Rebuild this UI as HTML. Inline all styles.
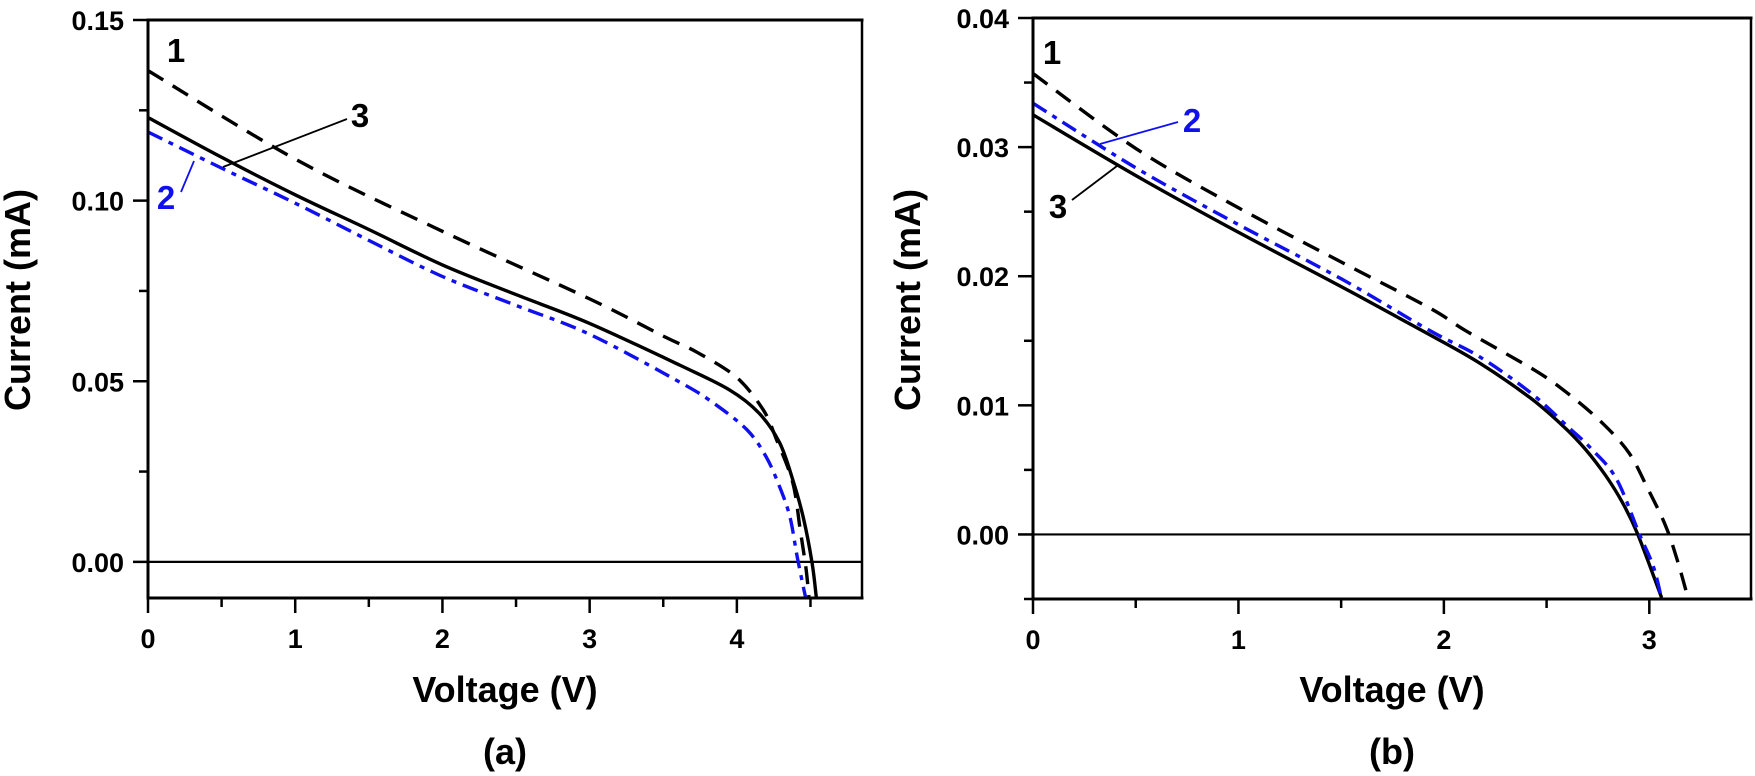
<!DOCTYPE html>
<html><head><meta charset="utf-8">
<style>
html,body{margin:0;padding:0;background:#fff;}
svg{display:block;font-family:"Liberation Sans",Arial,sans-serif;font-weight:bold;}
</style></head>
<body>
<svg id="chart" width="1755" height="776" viewBox="0 0 1755 776" xmlns="http://www.w3.org/2000/svg"></svg>
<script>
// ---- Panel (a) data ----
const aV1 = [0, 1, 2, 3, 3.5, 3.73, 4, 4.18, 4.27, 4.38, 4.43, 4.47, 4.49];
const aI1 = [0.136, 0.1115, 0.0915, 0.0728, 0.0625, 0.058, 0.051, 0.042, 0.0338, 0.0219, 0.0089, -0.002, -0.01];
const aV3 = [0, 0.5, 1, 1.5, 2, 2.5, 3, 3.61, 3.95, 4.15, 4.29, 4.38, 4.45, 4.51, 4.54];
const aI3 = [0.123, 0.112, 0.1016, 0.092, 0.0822, 0.074, 0.066, 0.0545, 0.0476, 0.0412, 0.033, 0.0227, 0.0125, 0.0, -0.01];
const aV2 = [0, 0.5, 1, 1.5, 2, 2.5, 3, 3.61, 3.84, 4.07, 4.2, 4.29, 4.36, 4.41, 4.46, 4.47];
const aI2 = [0.119, 0.109, 0.0993, 0.089, 0.079, 0.071, 0.063, 0.0498, 0.044, 0.0365, 0.029, 0.0208, 0.0125, 0.0014, -0.0086, -0.01];
const aXTicks = [0, 1, 2, 3, 4];
const aYTicks = [0.00, 0.05, 0.10, 0.15];
const aYLabels = ["0.00", "0.05", "0.10", "0.15"];
// ---- Panel (b) data ----
const bV1 = [0, 0.5, 1, 1.5, 1.93, 2.11, 2.45, 2.61, 2.77, 2.9, 2.99, 3.08, 3.14, 3.19];
const bI1 = [0.0357, 0.0299, 0.0253, 0.0211, 0.01755, 0.01574, 0.01264, 0.01084, 0.00865, 0.00634, 0.00363, 0.00065, -0.0022, -0.005];
const bV3 = [0, 0.5, 1, 1.5, 1.93, 2.17, 2.42, 2.58, 2.69, 2.79, 2.87, 2.944, 3.06];
const bI3 = [0.0325, 0.0278, 0.0234, 0.0192, 0.01548, 0.01331, 0.01058, 0.0084, 0.00658, 0.0045, 0.00245, 0.0, -0.0049];
const bV2 = [0, 0.5, 1, 1.5, 1.93, 2.17, 2.42, 2.6, 2.72, 2.84, 2.95, 3.02, 3.06];
const bI2 = [0.0334, 0.0284, 0.024, 0.0198, 0.0158, 0.0138, 0.011, 0.0084, 0.0066, 0.0043, 0.0001, -0.0025, -0.005];
const bXTicks = [0, 1, 2, 3];
const bYTicks = [0.00, 0.01, 0.02, 0.03, 0.04];
const bYLabels = ["0.00", "0.01", "0.02", "0.03", "0.04"];

const NS = "http://www.w3.org/2000/svg";
const svg = document.getElementById("chart");
function mk(tag, attrs, parent) {
  const e = document.createElementNS(NS, tag);
  for (const k in attrs) e.setAttribute(k, attrs[k]);
  (parent || svg).appendChild(e);
  return e;
}
function smoothPath(pts) {
  let d = "M" + pts[0][0].toFixed(1) + "," + pts[0][1].toFixed(1);
  for (let i = 0; i < pts.length - 1; i++) {
    const p0 = pts[i - 1] || pts[i], p1 = pts[i], p2 = pts[i + 1], p3 = pts[i + 2] || p2;
    const c1 = [p1[0] + (p2[0] - p0[0]) / 6, p1[1] + (p2[1] - p0[1]) / 6];
    const c2 = [p2[0] - (p3[0] - p1[0]) / 6, p2[1] - (p3[1] - p1[1]) / 6];
    d += " C" + c1[0].toFixed(1) + "," + c1[1].toFixed(1) + " " + c2[0].toFixed(1) + "," + c2[1].toFixed(1) + " " + p2[0].toFixed(1) + "," + p2[1].toFixed(1);
  }
  return d;
}

function panel(cfg) {
  const g = mk("g", {});
  
  
  const X = v => cfg.x0 + (v - cfg.xmin) / (cfg.xmax - cfg.xmin) * (cfg.x1 - cfg.x0);
  const Y = v => cfg.y1 - (v - cfg.ymin) / (cfg.ymax - cfg.ymin) * (cfg.y1 - cfg.y0);
  const cid = cfg.name + "-clip";
  const defs = mk("defs", {}, g);
  const cp = mk("clipPath", {id: cid}, defs);
  mk("rect", {x: cfg.x0, y: cfg.y0, width: cfg.x1 - cfg.x0, height: cfg.y1 - cfg.y0}, cp);
  const z = mk("line", {x1: cfg.x0, x2: cfg.x1, y1: Y(0), y2: Y(0), stroke: "#000", "stroke-width": 2.2}, g);
  
  
  const cg = mk("g", {"clip-path": "url(#" + cid + ")"}, g);
  cfg.series.forEach(s => {
    const pts = s.v.map((v, i) => [X(v), Y(s.i[i])]);
    const p = mk("path", {d: smoothPath(pts), fill: "none", stroke: s.color, "stroke-width": 3.4, "stroke-dasharray": s.dash, "stroke-linejoin": "round"}, cg);
    
    
  });
  const fr = mk("g", {}, g);
  
  
  mk("line", {x1: cfg.x0, x2: cfg.x1 + 1.5, y1: cfg.y0, y2: cfg.y0, stroke: "#000", "stroke-width": 3}, fr);
  mk("line", {x1: cfg.x1, x2: cfg.x1, y1: cfg.y0, y2: cfg.y1, stroke: "#000", "stroke-width": 2.5}, fr);
  mk("line", {x1: cfg.x0, x2: cfg.x0, y1: cfg.y0 - 1.5, y2: cfg.y1 + 1.5, stroke: "#000", "stroke-width": 3}, fr);
  mk("line", {x1: cfg.x0 - 1.5, x2: cfg.x1 + 1.5, y1: cfg.y1, y2: cfg.y1, stroke: "#000", "stroke-width": 3}, fr);
  const xax = mk("g", {}, g);
  
  
  for (let v = cfg.xmin; v <= cfg.xmax + 1e-9; v += 0.5) {
    const major = Math.abs(v - Math.round(v)) < 1e-6;
    mk("line", {x1: X(v), x2: X(v), y1: cfg.y1, y2: cfg.y1 + (major ? 15 : 9), stroke: "#000", "stroke-width": 2.5}, xax);
  }
  cfg.xticks.forEach(v => {
    const t = mk("text", {x: X(v), y: cfg.y1 + 50, "text-anchor": "middle", "font-size": 27}, xax);
    t.textContent = String(v);
    
    
  });
  const xt = mk("text", {x: (cfg.x0 + cfg.x1) / 2, y: 702, "text-anchor": "middle", "font-size": 36}, g);
  xt.textContent = "Voltage (V)";
  
  
  const pl = mk("text", {x: (cfg.x0 + cfg.x1) / 2, y: 764, "text-anchor": "middle", "font-size": 36}, g);
  pl.textContent = cfg.label;
  
  
  const yax = mk("g", {}, g);
  
  
  const step = cfg.ystep / 2;
  for (let k = Math.ceil(cfg.ymin / step - 1e-9); k * step <= cfg.ymax + 1e-9; k++) {
    const v = k * step;
    const major = k % 2 === 0;
    mk("line", {x1: cfg.x0 - (major ? 15 : 9), x2: cfg.x0, y1: Y(v), y2: Y(v), stroke: "#000", "stroke-width": 2.5}, yax);
  }
  cfg.yticks.forEach((v, i) => {
    const t = mk("text", {x: cfg.x0 - 24, y: Y(v) + 10, "text-anchor": "end", "font-size": 27}, yax);
    t.textContent = cfg.ylabels[i];
    
    
  });
  const yt = mk("text", {x: 0, y: 0, "text-anchor": "middle", "font-size": 36, transform: "translate(" + cfg.ytx + "," + 300 + ") rotate(-90)"}, g);
  yt.textContent = "Current (mA)";
  
  
  cfg.annots.forEach(a => {
    if (a.line) {
      const l = mk("line", {x1: a.line[0], y1: a.line[1], x2: a.line[2], y2: a.line[3], stroke: a.color, "stroke-width": 1.8}, g);
      
      
    }
    const t = mk("text", {x: a.x, y: a.y, "text-anchor": "middle", "font-size": 33, fill: a.color}, g);
    t.textContent = a.t;
    
    
  });
}

panel({name: "panel-a", label: "(a)", x0: 148, x1: 862, y0: 20, y1: 598,
  xmin: 0, xmax: 4.85, ymin: -0.01, ymax: 0.15, ystep: 0.05, ytx: 30,
  xticks: aXTicks, yticks: aYTicks, ylabels: aYLabels,
  series: [
    {name: "curve-1-dashed", v: aV1, i: aI1, color: "#000", dash: "18 11"},
    {name: "curve-3-solid", v: aV3, i: aI3, color: "#000", dash: "none"},
    {name: "curve-2-dashdot", v: aV2, i: aI2, color: "#1010ee", dash: "16 7 5 7"}
  ],
  annots: [
    {t: "1", x: 176, y: 62, color: "#000"},
    {t: "3", x: 360, y: 127, color: "#000", line: [223, 167, 347, 119]},
    {t: "2", x: 166, y: 209, color: "#1010ee", line: [194, 161, 181, 192]}
  ]});

panel({name: "panel-b", label: "(b)", x0: 1033, x1: 1751, y0: 18, y1: 599,
  xmin: 0, xmax: 3.495, ymin: -0.005, ymax: 0.04, ystep: 0.01, ytx: 920,
  xticks: bXTicks, yticks: bYTicks, ylabels: bYLabels,
  series: [
    {name: "curve-1-dashed", v: bV1, i: bI1, color: "#000", dash: "18 11"},
    {name: "curve-3-solid", v: bV3, i: bI3, color: "#000", dash: "none"},
    {name: "curve-2-dashdot", v: bV2, i: bI2, color: "#1010ee", dash: "16 7 5 7"}
  ],
  annots: [
    {t: "1", x: 1052, y: 64, color: "#000"},
    {t: "2", x: 1192, y: 132, color: "#1010ee", line: [1100, 144, 1178, 122]},
    {t: "3", x: 1058, y: 218, color: "#000", line: [1072, 200, 1117, 166]}
  ]});
</script>
</body></html>
